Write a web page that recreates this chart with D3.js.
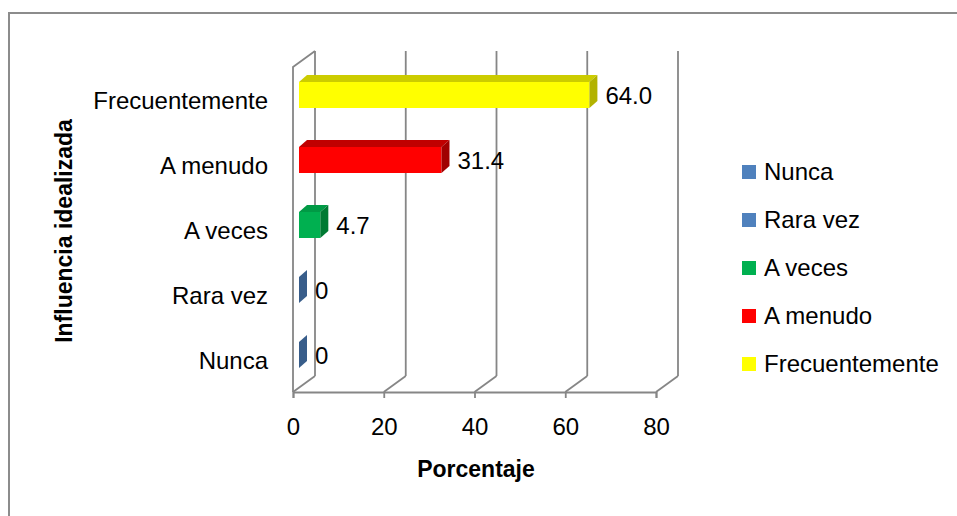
<!DOCTYPE html>
<html>
<head>
<meta charset="utf-8">
<script src="https://cdn.jsdelivr.net/npm/d3@7"></script>
<style>
  html, body { margin: 0; padding: 0; background: #fff; }
  svg { display: block; }
  text { font-family: "Liberation Sans", Arial, sans-serif; fill: #000; }
</style>
</head>
<body>
<svg id="chart" width="957" height="516"></svg>
<script>
// ---- data ----
const categories = ["Nunca", "Rara vez", "A veces", "A menudo", "Frecuentemente"];
const values = [0, 0, 4.7, 31.4, 64.0];
const valueLabels = ["0", "0", "4.7", "31.4", "64.0"];
const frontColors = ["#385D8A", "#385D8A", "#00B050", "#FF0000", "#FFFF00"];
const topColors = ["#4F81BD", "#4F81BD", "#009A45", "#C00000", "#CCCC00"];
const sideColors = ["#385D8A", "#385D8A", "#007A33", "#A00000", "#B2B200"];
const legendColors = ["#4F81BD", "#4F81BD", "#00B050", "#FF0000", "#FFFF00"];
const xTicks = [0, 20, 40, 60, 80];
const xTitle = "Porcentaje";
const yTitle = "Influencia idealizada";

// ---- layout ----
const svg = d3.select("#chart");
const grid = "#868686";
const fontSize = 24;

const x = d3.scaleLinear().domain([0, 80]).range([293, 656]);
const y = d3.scaleBand().domain(categories.slice().reverse())
  .range([62.5, 387.5]).paddingInner(0.6).paddingOuter(0.3);

const floorY = 392;     // front floor edge
const wallTop = 67;     // front top of left wall
const dX = 22, dY = -16; // depth of the 3D box
const barOff = 6;       // bar front face offset from front plane
const bdX = 8, bdY = -7; // bar depth

// outer border
svg.append("path")
  .attr("d", `M9,520 L9,13 L960,13`)
  .attr("fill", "none").attr("stroke", "#8c8c8c").attr("stroke-width", 2);

// back wall gridlines
const g = svg.append("g").attr("fill", "none").attr("stroke", grid).attr("stroke-width", 1.8);
xTicks.forEach(t => {
  const fx = x(t);
  g.append("line").attr("x1", fx + dX).attr("x2", fx + dX)
    .attr("y1", wallTop + dY).attr("y2", floorY + dY);
  g.append("line").attr("x1", fx).attr("y1", floorY)
    .attr("x2", fx + dX).attr("y2", floorY + dY);
});
g.append("path").attr("d",
  `M${x(0)},${floorY} L${x(0)},${wallTop} L${x(0) + dX},${wallTop + dY}`);

// x axis (front floor edge with ticks)
const xAxis = d3.axisBottom(x).tickValues(xTicks).tickSize(6).tickPadding(20)
  .tickFormat(d3.format("d"));
const ax = svg.append("g").attr("transform", `translate(0,${floorY})`).call(xAxis);
ax.select(".domain").attr("stroke", grid).attr("stroke-width", 1.8);
ax.selectAll(".tick line").attr("stroke", grid).attr("stroke-width", 1.8);
ax.selectAll(".tick text").attr("font-size", fontSize)
  .attr("font-family", "Liberation Sans, Arial, sans-serif").attr("fill", "#000");

// bars
const bars = svg.append("g");
categories.forEach((c, i) => {
  const v = values[i];
  const x0 = x(0) + barOff;
  const x1 = x(v) + barOff;
  const yt = y(c);
  const h = y.bandwidth();
  if (v > 0) {
    bars.append("rect").attr("x", x0).attr("y", yt)
      .attr("width", x1 - x0).attr("height", h).attr("fill", frontColors[i]);
    bars.append("path").attr("d",
      `M${x0},${yt} L${x0 + bdX},${yt + bdY} L${x1 + bdX},${yt + bdY} L${x1},${yt} Z`)
      .attr("fill", topColors[i]);
  }
  bars.append("path").attr("d",
    `M${x1},${yt} L${x1 + bdX},${yt + bdY} L${x1 + bdX},${yt + bdY + h} L${x1},${yt + h} Z`)
    .attr("fill", sideColors[i]);
  svg.append("text").attr("x", x1 + 16).attr("y", yt + h / 2 + 3)
    .attr("dominant-baseline", "middle").attr("font-size", fontSize)
    .text(valueLabels[i]);
  svg.append("text").attr("x", 268).attr("y", yt + h / 2 + 8)
    .attr("text-anchor", "end").attr("dominant-baseline", "middle")
    .attr("font-size", fontSize).text(c);
});

// axis titles
svg.append("text").attr("x", 476).attr("y", 477).attr("text-anchor", "middle")
  .attr("font-size", fontSize - 1).attr("font-weight", "bold").text(xTitle);
svg.append("text").attr("transform", "translate(72,231) rotate(-90)")
  .attr("text-anchor", "middle").attr("font-size", fontSize - 1)
  .attr("font-weight", "bold").text(yTitle);

// legend
const lg = svg.append("g");
const legendY = d3.scalePoint().domain(categories).range([172, 364]);
categories.forEach((c, i) => {
  const cy = legendY(c);
  lg.append("rect").attr("x", 742).attr("y", cy - 7).attr("width", 14).attr("height", 14)
    .attr("fill", legendColors[i]);
  lg.append("text").attr("x", 764).attr("y", cy + 2).attr("dominant-baseline", "middle")
    .attr("font-size", fontSize).text(c);
});
</script>
</body>
</html>
